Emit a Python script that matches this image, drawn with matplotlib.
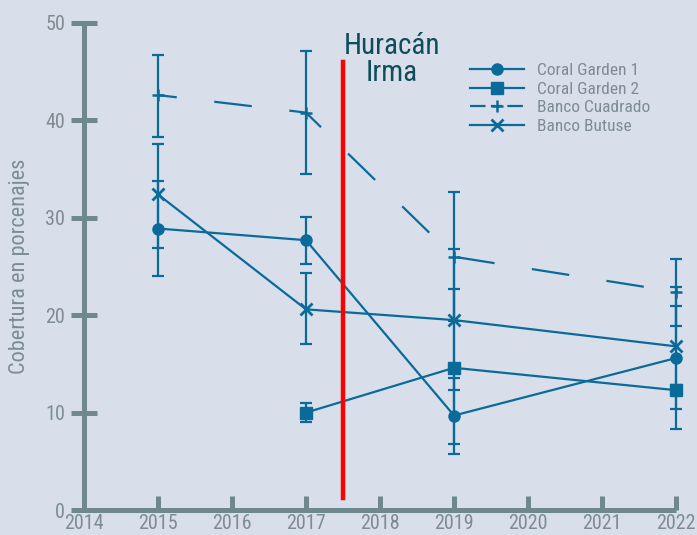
import matplotlib

matplotlib.use("Agg")

import matplotlib.pyplot as plt
from matplotlib import font_manager
from matplotlib.lines import Line2D

# Values
years_cg1 = [2015, 2017, 2019, 2022]
cg1 = [28.9, 27.7, 9.7, 15.6]
cg1_lo = [4.9, 2.4, 3.9, 7.3]
cg1_hi = [4.9, 2.4, 3.9, 7.3]

years_cg2 = [2017, 2019, 2022]
cg2 = [10.0, 14.6, 12.3]
cg2_lo = [1.0, 7.8, 1.9]
cg2_hi = [1.0, 8.1, 0.5]

years_bc = [2015, 2017, 2019, 2022]
bc = [42.6, 40.8, 26.0, 22.4]
bc_lo = [4.3, 6.3, 6.6, 3.5]
bc_hi = [4.1, 6.3, 6.6, 3.4]

years_bb = [2015, 2017, 2019, 2022]
bb = [32.4, 20.6, 19.5, 16.8]
bb_lo = [5.5, 3.6, 7.2, 4.1]
bb_hi = [5.2, 3.7, 7.3, 4.1]

hurricane_year = 2017.5
series_names = ["Coral Garden 1", "Coral Garden 2", "Banco Cuadrado", "Banco Butuse"]

BG = "#d9dfea"
BLUE = "#0a6b9b"
AXIS = "#6f888d"
TEXT = "#7d8c93"

installed = {f.name for f in font_manager.fontManager.ttflist}
family = next((n for n in ["Roboto Condensed", "Liberation Sans Narrow", "DejaVu Sans Condensed", "Roboto"]
               if n in installed), "DejaVu Sans")
plt.rcParams["font.family"] = [family, "DejaVu Sans"]

fig = plt.figure(figsize=(6.97, 5.35), dpi=100, facecolor=BG)
ax = fig.add_axes([84 / 697, 25 / 535, 592 / 697, 487 / 535], facecolor=BG)

err_kw = dict(fmt="none", ecolor=BLUE, elinewidth=1.6, capsize=4.5, capthick=1.6, zorder=3)
ax.errorbar(years_cg1, cg1, yerr=[cg1_lo, cg1_hi], **err_kw)
ax.errorbar(years_cg2, cg2, yerr=[cg2_lo, cg2_hi], **err_kw)
ax.errorbar(years_bc, bc, yerr=[bc_lo, bc_hi], **err_kw)
ax.errorbar(years_bb, bb, yerr=[bb_lo, bb_hi], **err_kw)

line_kw = dict(color=BLUE, lw=1.6, zorder=4)
ax.plot(years_cg1, cg1, marker="o", ms=8, **line_kw)
ax.plot(years_cg2, cg2, marker="s", ms=8, **line_kw)
ax.plot(years_bc, bc, marker="+", ms=8, mew=1.8, linestyle=(8.5, (17, 17)), **line_kw)
ax.plot(years_bb, bb, marker="x", ms=8, mew=2.0, **line_kw)

ax.plot([hurricane_year, hurricane_year], [1.2, 46.0], color="#ff0000", lw=3.2, zorder=5)
ax.text(hurricane_year + 0.66, 49.1, "Huracán\nIrma", ha="center", va="top", fontsize=21,
        color="#0f4d5b", linespacing=0.95)

ax.set_xlim(2014, 2022)
ax.set_ylim(0, 50)
ax.set_xticks(range(2014, 2023))
ax.set_yticks(range(0, 51, 10))

for side in ["top", "right"]:
    ax.spines[side].set_visible(False)
for side in ["left", "bottom"]:
    ax.spines[side].set_color(AXIS)
    ax.spines[side].set_linewidth(3.6)
    ax.spines[side].set_capstyle("butt")

ax.tick_params(axis="y", direction="inout", length=19, width=3.6, color=AXIS,
               labelcolor=TEXT, labelsize=14.5, pad=4)
ax.tick_params(axis="x", direction="in", length=10, width=3.6, color=AXIS,
               labelcolor=TEXT, labelsize=14.5, pad=3)

ax.set_ylabel("Cobertura en porcenajes", color=TEXT, fontsize=16, labelpad=11)

# legend handles without error bars; the dashed one gets a short dash pattern
handles = [
    Line2D([], [], color=BLUE, lw=1.6, marker="o", ms=8),
    Line2D([], [], color=BLUE, lw=1.6, marker="s", ms=8),
    Line2D([], [], color=BLUE, lw=1.6, marker="+", ms=8, mew=1.8,
           dashes=[7.0, 2.4, 5.0, 2.4, 7.0, 10]),
    Line2D([], [], color=BLUE, lw=1.6, marker="x", ms=8, mew=2.0),
]
leg = ax.legend(handles, series_names, loc="upper left", bbox_to_anchor=(470 / 697, 1 - 63 / 535),
                bbox_transform=fig.transFigure, frameon=False, fontsize=12.5,
                handlelength=3.1, handletextpad=0.75, labelspacing=0.2,
                borderpad=0, borderaxespad=0, numpoints=1)
for t in leg.get_texts():
    t.set_color(TEXT)

for artist in ax.get_children():
    try:
        artist.set_clip_on(False)
    except AttributeError:
        pass

fig.savefig("out.png", dpi=100, facecolor=BG)
